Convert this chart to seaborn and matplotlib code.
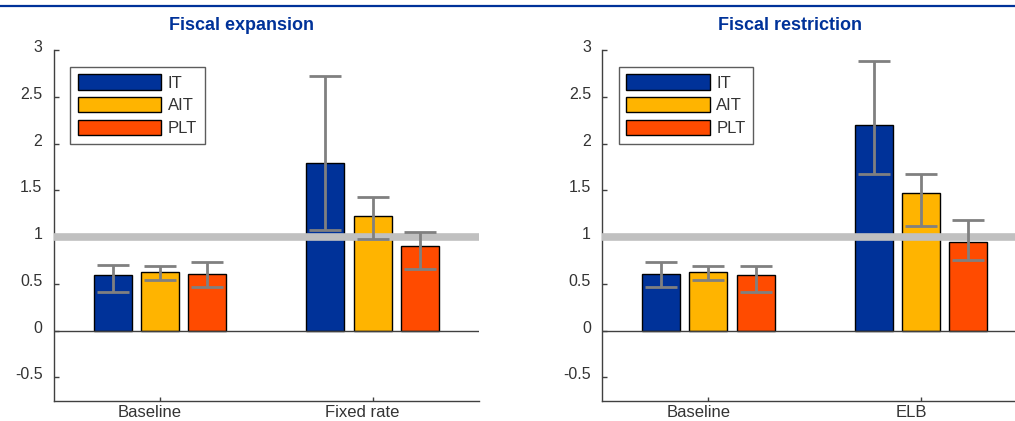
import matplotlib
matplotlib.use("Agg")
import matplotlib.pyplot as plt
import matplotlib.transforms as mtransforms
from matplotlib.patches import Patch
from matplotlib.lines import Line2D
import pandas as pd
import seaborn as sns

# dados
regimes = ["IT", "AIT", "PLT"]
cores = ["#003299", "#FFB400", "#FF4B00"]

titulo_esq = "Fiscal expansion"
cenarios_esq = ["Baseline", "Fixed rate"]
valores_esq = [[0.59, 0.63, 0.61], [1.79, 1.22, 0.90]]
inf_esq = [[0.41, 0.54, 0.47], [1.08, 0.98, 0.66]]
sup_esq = [[0.70, 0.69, 0.73], [2.72, 1.43, 1.05]]

titulo_dir = "Fiscal restriction"
cenarios_dir = ["Baseline", "ELB"]
valores_dir = [[0.61, 0.63, 0.59], [2.20, 1.47, 0.95]]
inf_dir = [[0.47, 0.54, 0.41], [1.67, 1.12, 0.75]]
sup_dir = [[0.73, 0.69, 0.69], [2.88, 1.67, 1.18]]

yticks = [-0.5, 0, 0.5, 1, 1.5, 2, 2.5, 3]
ytick_labels = ["-0.5", "0", "0.5", "1", "1.5", "2", "2.5", "3"]

sns.set_style("white")
plt.rcParams["font.family"] = ["Liberation Sans", "DejaVu Sans"]
cinza_txt = "#333333"
azul = "#003299"

fig = plt.figure(figsize=(10.15, 4.21), dpi=100)
largura = 425.5 / 1015
altura = 350.7 / 421
base = 20.3 / 421
ax_esq = fig.add_axes([53.5 / 1015, base, largura, altura])
ax_dir = fig.add_axes([602 / 1015, base, largura, altura])


def painel(ax, cenarios, valores, inf, sup):
    linhas = []
    for i, c in enumerate(cenarios):
        for j, r in enumerate(regimes):
            linhas.append({"cenario": c, "regime": r, "valor": valores[i][j],
                           "inf": inf[i][j], "sup": sup[i][j]})
    df = pd.DataFrame(linhas)
    sns.barplot(data=df, x="cenario", y="valor", hue="regime", order=cenarios,
                hue_order=regimes, palette=cores, errorbar=None, width=0.667,
                gap=0.195, edgecolor="black", linewidth=1, legend=False,
                saturation=1, ax=ax, zorder=2)
    ax.axhline(1, color="#C0C0C0", lw=5.5, zorder=3)
    ax.axhline(0, color="#404040", lw=1, zorder=4)

    # barras de erro nos centros das barras desenhadas
    barras = sorted(ax.patches, key=lambda p: p.get_x())
    for p, (_, row) in zip(barras, df.iterrows()):
        xc = p.get_x() + p.get_width() / 2
        ax.errorbar(xc, row["valor"],
                    yerr=[[row["valor"] - row["inf"]], [row["sup"] - row["valor"]]],
                    fmt="none", ecolor="#808080", elinewidth=2, capsize=11.5,
                    capthick=2, zorder=5)

    ax.set_xlim(-0.5, 1.5)
    ax.set_ylim(-0.75, 3)
    ax.set_yticks(yticks)
    ax.set_yticklabels(ytick_labels)
    ax.set_xlabel("")
    ax.set_ylabel("")
    for s in ["top", "right"]:
        ax.spines[s].set_visible(False)
    for s in ["left", "bottom"]:
        ax.spines[s].set_color("#404040")
        ax.spines[s].set_linewidth(1)
    ax.tick_params(axis="y", direction="in", length=3.5, width=1, color="#404040",
                   pad=8, labelsize=11.5, labelcolor=cinza_txt, left=True)
    ax.tick_params(axis="x", direction="in", length=3, width=1, color="#404040",
                   pad=3, labelsize=12, labelcolor=cinza_txt, bottom=True)
    off_y = mtransforms.ScaledTranslation(0, 4 / 100, fig.dpi_scale_trans)
    for lab in ax.get_yticklabels():
        lab.set_transform(lab.get_transform() + off_y)
    off_x = mtransforms.ScaledTranslation(-10 / 100, 0, fig.dpi_scale_trans)
    for lab in ax.get_xticklabels():
        lab.set_transform(lab.get_transform() + off_x)

    handles = [Patch(facecolor=c, edgecolor="black", lw=1) for c in cores]
    leg = ax.legend(handles, regimes, loc="upper left",
                    bbox_to_anchor=(16.8 / 425.5, 1 - 16.7 / 350.7),
                    borderaxespad=0, fontsize=12, handlelength=5.0,
                    handleheight=1.05, labelspacing=0.38, handletextpad=0.4,
                    borderpad=0.45, frameon=True, fancybox=False)
    leg.get_frame().set_edgecolor("#333333")
    leg.get_frame().set_linewidth(1)
    for t in leg.get_texts():
        t.set_color(cinza_txt)
    leg.set_zorder(6)


painel(ax_esq, cenarios_esq, valores_esq, inf_esq, sup_esq)
painel(ax_dir, cenarios_dir, valores_dir, inf_dir, sup_dir)

fig.text(241.8 / 1015, 1 - 25 / 421, titulo_esq, ha="center", va="center",
         fontsize=13, fontweight="bold", color=azul)
fig.text(790 / 1015, 1 - 25 / 421, titulo_dir, ha="center", va="center",
         fontsize=13, fontweight="bold", color=azul)
fig.add_artist(Line2D([0, 1], [1 - 5.7 / 421, 1 - 5.7 / 421],
                      transform=fig.transFigure, color=azul, lw=1.6))

fig.savefig("out.png", dpi=100)
